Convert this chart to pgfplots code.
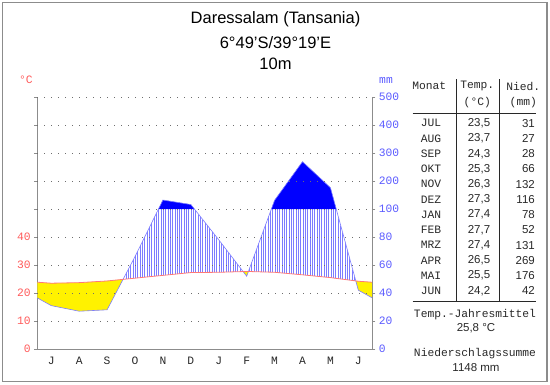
\documentclass[border=0pt]{standalone}
\usepackage{pgfplots}
\pgfplotsset{compat=1.18}
\usepackage{pgfplotstable}
\usepgfplotslibrary{fillbetween}
\usetikzlibrary{patterns.meta}
\usepackage{fontspec}
\setmainfont{Liberation Sans}
\setmonofont{Liberation Mono}
\definecolor{tred}{RGB}{255,120,120}
\definecolor{pblue}{RGB}{125,125,255}
\definecolor{lblred}{RGB}{255,90,90}
\definecolor{lblblue}{RGB}{90,90,255}
\definecolor{gridgray}{RGB}{110,110,110}
\definecolor{axgray}{RGB}{140,140,140}
\definecolor{tabtext}{RGB}{40,40,40}
\newcommand{\mono}{\fontsize{11.3}{12}\ttfamily}
\newcommand{\sans}{\fontsize{11.5}{12}\selectfont}

% temperature (deg C), months Jul..Jun at month centres; edges = mean of Jun/Jul
\pgfplotstableread{
x T
0 23.85
0.5 23.5
1.5 23.7
2.5 24.3
3.5 25.3
4.5 26.3
5.5 27.3
6.5 27.4
7.5 27.7
8.5 27.4
9.5 26.5
10.5 25.5
11.5 24.2
12 23.85
}\tempdata
% precipitation on the diagram scale: mm/2 up to 100 mm, 50 + (mm-100)/10 above
% (31 27 28 66 132 116 78 52 131 269 176 42 mm)
\pgfplotstableread{
x P
0 18.25
0.5 15.5
1.5 13.5
2.5 14
3.5 33
4.5 53.2
5.5 51.6
6.5 39
7.5 26
8.5 53.1
9.5 66.9
10.5 57.6
11.5 21
12 18.25
}\precdata

\begin{document}
\begin{tikzpicture}
\draw[axgray, line width=1.3pt] (2.7pt,-2.7pt) rectangle (547pt,-381.3pt);

\begin{axis}[
  at={(37.3pt,-349pt)}, anchor=south west,
  scale only axis, width=335pt, height=252pt,
  xmin=0, xmax=12, ymin=0, ymax=90,
  axis x line*=bottom, axis y line*=left,
  axis line style={-, axgray, line width=0.6pt},
  tick align=outside,
  major tick length=3pt,
  tick style={axgray, line width=0.5pt},
  ticklabel style={font=\mono},
  ytick={0,10,...,90},
  yticklabels={0,10,20,30,40,{},{},{},{},{}},
  yticklabel style={text=lblred},
  xtick={0.5,1.5,...,11.5},
  xticklabels={J,A,S,O,N,D,J,F,M,A,M,J},
  xticklabel style={text=tabtext, yshift=-1.5pt},
  major x tick style={draw=none},
]
\addplot[draw=none, name path=T] table[x=x,y=T] {\tempdata};
\addplot[draw=none, name path=P] table[x=x,y=P] {\precdata};
\addplot[draw=none, name path=L] coordinates {(0,50) (12,50)};
% arid season yellow, humid season hatched
\addplot[yellow] fill between[of=T and P, split,
  every odd segment/.style={pattern={Lines[angle=90,distance=2.33pt,line width=0.5pt]}, pattern color=pblue}];
% more than 100 mm
\addplot[blue] fill between[of=P and L, split,
  every even segment/.style={fill opacity=0}];
\addplot[pblue, line width=0.6pt] table[x=x,y=P] {\precdata};
\addplot[tred, line width=0.8pt] table[x=x,y=T] {\tempdata};
\end{axis}

\begin{axis}[
  at={(37.3pt,-349pt)}, anchor=south west,
  scale only axis, width=335pt, height=252pt,
  xmin=0, xmax=12, ymin=0, ymax=90,
  axis x line*=bottom, axis y line*=right,
  axis line style={-, axgray, line width=0.6pt},
  tick align=outside,
  major tick length=3pt,
  tick style={axgray, line width=0.5pt},
  ticklabel style={font=\mono},
  ytick={0,10,...,90},
  yticklabels={0,20,40,60,80,100,200,300,400,500},
  yticklabel style={text=lblblue},
  xtick=\empty,
  minor xtick={0,1,...,12},
  minor tick length=6pt,
  minor x tick style={axgray, yshift=3pt},
  ymajorgrids, xminorgrids,
  major grid style={gridgray, line width=0.6pt, dash pattern=on 0.8pt off 6.2pt},
  minor grid style={gridgray, line width=0.6pt, dash pattern=on 0.8pt off 6.2pt},
]
\addplot[draw=none] coordinates {(0,0) (12,90)};
\end{axis}

% titles
\node[font=\fontsize{16.5}{18}\selectfont] at (275.5pt,-19pt) {Daressalam (Tansania)};
\node[font=\fontsize{16.5}{18}\selectfont] at (275.5pt,-42.7pt) {6°49'S/39°19'E};
\node[font=\fontsize{16.5}{18}\selectfont] at (275.5pt,-64pt) {10m};
\node[font=\mono, text=lblred] at (26pt,-80pt) {°C};
\node[font=\mono, text=lblblue] at (386pt,-80pt) {mm};

% table
\draw[tabtext, line width=0.8pt] (456.7pt,-79pt) -- (456.7pt,-301.7pt);
\draw[tabtext, line width=0.8pt] (499.3pt,-79pt) -- (499.3pt,-301.7pt);
\draw[tabtext, line width=0.8pt] (412.7pt,-113.3pt) -- (536pt,-113.3pt);
\draw[tabtext, line width=0.8pt] (412.7pt,-301.7pt) -- (536pt,-301.7pt);
\begin{scope}[every node/.style={text=tabtext, inner sep=0pt}]
\node[font=\mono] at (429.3pt,-86pt) {Monat};
\node[font=\mono] at (477.3pt,-86pt) {Temp.};
\node[font=\mono] at (477.3pt,-103pt) {(°C)};
\node[font=\mono] at (523.3pt,-86pt) {Nied.};
\node[font=\mono] at (523.3pt,-103pt) {(mm)};
\foreach \m/\t/\p [count=\i from 0] in {JUL/23{,}5/31, AUG/23{,}7/27, SEP/24{,}3/28, OKT/25{,}3/66, NOV/26{,}3/132, DEZ/27{,}3/116, JAN/27{,}4/78, FEB/27{,}7/52, MRZ/27{,}4/131, APR/26{,}5/269, MAI/25{,}5/176, JUN/24{,}2/42}{
  \node[font=\mono] at (431pt,{-123.3pt-15.22pt*\i}) {\m};
  \node[font=\sans] at (479pt,{-123.3pt-15.22pt*\i}) {\t};
  \node[font=\sans, anchor=east] at (535pt,{-123.3pt-15.22pt*\i}) {\p};
}
\node[font=\mono] at (475pt,-314.3pt) {Temp.-Jahresmittel};
\node[font=\sans] at (476pt,-328.3pt) {25,8 °C};
\node[font=\mono] at (475pt,-354pt) {Niederschlagssumme};
\node[font=\sans] at (476pt,-367.3pt) {1148 mm};
\end{scope}
\path (0pt,0pt) rectangle (550pt,-384pt);
\end{tikzpicture}
\end{document}
